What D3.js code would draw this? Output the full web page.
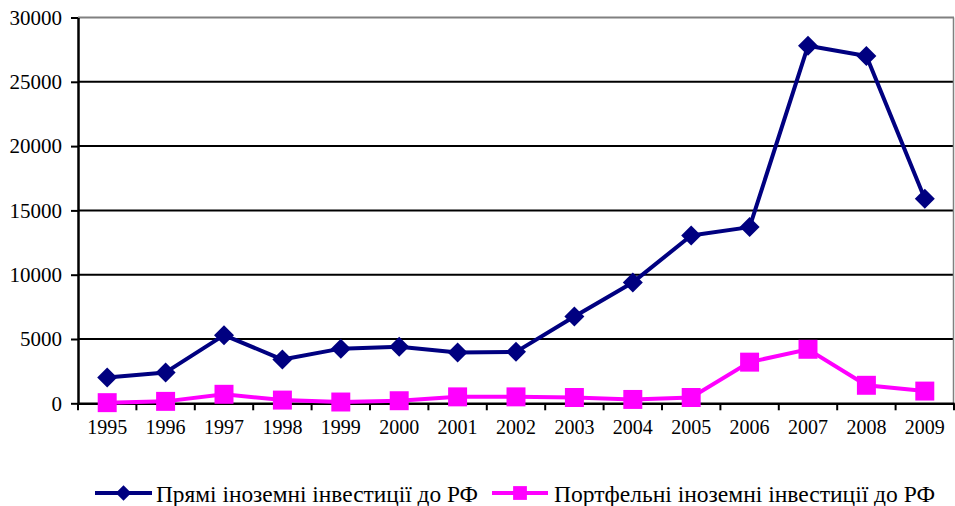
<!DOCTYPE html>
<html>
<head>
<meta charset="utf-8">
<script src="https://cdn.jsdelivr.net/npm/d3@7.9.0/dist/d3.min.js"></script>
<style>
  body { margin: 0; background: #fff; }
  svg text { font-family: "Times New Roman", "Liberation Serif", Tinos, "DejaVu Serif", serif !important; }
</style>
</head>
<body>
<svg id="chart"></svg>
<script>
const years = ['1995', '1996', '1997', '1998', '1999', '2000', '2001', '2002',
  '2003', '2004', '2005', '2006', '2007', '2008', '2009'];
const direct = [2000, 2400, 5300, 3400, 4250, 4400, 3950, 4000,
  6750, 9400, 13050, 13700, 27800, 27000, 15900];
const portfolio = [50, 150, 700, 250, 100, 200, 500, 500,
  450, 300, 450, 3200, 4200, 1400, 950];
const yTicks = [0, 5000, 10000, 15000, 20000, 25000, 30000];
const seriesNames = ['Прямі іноземні інвестиції до РФ', 'Портфельні іноземні інвестиції до РФ'];

const width = 955;
const height = 506;
const margin = { top: 17.5, right: 1, bottom: 102.7, left: 78 };

const svg = d3.select('#chart')
  .attr('width', width)
  .attr('height', height)
  .style('display', 'block');

const x = d3.scaleBand()
  .domain(years)
  .range([margin.left, width - margin.right])
  .paddingInner(0)
  .paddingOuter(0);

const y = d3.scaleLinear()
  .domain([0, 30000])
  .range([height - margin.bottom, margin.top]);

const cx = (d, i) => x(years[i]) + x.bandwidth() / 2;

// gridlines
svg.append('g')
  .selectAll('line')
  .data(yTicks.filter((d) => d > 0))
  .join('line')
  .attr('x1', margin.left)
  .attr('x2', width - margin.right)
  .attr('y1', (d) => y(d))
  .attr('y2', (d) => y(d))
  .attr('stroke', (d) => (d === 30000 ? '#808080' : '#000'))
  .attr('stroke-width', 2);

// right border
svg.append('line')
  .attr('x1', width - margin.right - 0.5)
  .attr('x2', width - margin.right - 0.5)
  .attr('y1', y(30000))
  .attr('y2', y(0))
  .attr('stroke', '#808080')
  .attr('stroke-width', 1.5);

// y axis
const yAxis = svg.append('g')
  .attr('transform', `translate(${margin.left}, 0)`)
  .call(d3.axisLeft(y).tickValues(yTicks).tickSize(7).tickSizeOuter(0).tickPadding(9)
    .tickFormat((d) => String(d)));
yAxis.attr('font-family', null);
yAxis.select('.domain').attr('stroke', '#000').attr('stroke-width', 2.5);
yAxis.selectAll('.tick line').attr('stroke', '#000').attr('stroke-width', 2);
yAxis.selectAll('.tick text')
  .attr('fill', '#000')
  .style('font-size', '21px');

// x axis
const xAxis = svg.append('g')
  .attr('transform', `translate(0, ${y(0)})`)
  .call(d3.axisBottom(x).tickSize(0).tickSizeOuter(0).tickPadding(12));
xAxis.attr('font-family', null);
xAxis.select('.domain').attr('stroke', '#000').attr('stroke-width', 2.5);
xAxis.selectAll('.tick text')
  .attr('fill', '#000')
  .attr('dy', '0.95em')
  .style('font-size', '20px');

// x tick marks at category boundaries
const bounds = years.map((d) => x(d)).concat([x.range()[1]]);
xAxis.selectAll('line.bound')
  .data(bounds)
  .join('line')
  .attr('class', 'bound')
  .attr('x1', (d) => d)
  .attr('x2', (d) => d)
  .attr('y1', 0)
  .attr('y2', 7)
  .attr('stroke', '#000')
  .attr('stroke-width', 2);

const line = d3.line()
  .x(cx)
  .y((d) => y(d));

const diamond = d3.symbol().type(d3.symbolSquare).size(200);
const square = d3.symbol().type(d3.symbolSquare).size(360);

// portfolio series
svg.append('path')
  .datum(portfolio)
  .attr('fill', 'none')
  .attr('stroke', '#ff00ff')
  .attr('stroke-width', 4)
  .attr('d', line);

svg.append('g')
  .selectAll('path')
  .data(portfolio)
  .join('path')
  .attr('transform', (d, i) => `translate(${cx(d, i)}, ${y(d)})`)
  .attr('d', square)
  .attr('fill', '#ff00ff');

// direct series
svg.append('path')
  .datum(direct)
  .attr('fill', 'none')
  .attr('stroke', '#000080')
  .attr('stroke-width', 4)
  .attr('stroke-linejoin', 'round')
  .attr('d', line);

svg.append('g')
  .selectAll('path')
  .data(direct)
  .join('path')
  .attr('transform', (d, i) => `translate(${cx(d, i)}, ${y(d)}) rotate(45)`)
  .attr('d', diamond)
  .attr('fill', '#000080');

// legend
const legend = svg.append('g');
const legendItems = [
  { name: seriesNames[0], color: '#000080', x0: 95, x1: 152, tx: 156, tl: 322, sym: 'diamond' },
  { name: seriesNames[1], color: '#ff00ff', x0: 492, x1: 548, tx: 554, tl: 381, sym: 'square' },
];
const ly = 493;
legendItems.forEach((it) => {
  legend.append('line')
    .attr('x1', it.x0)
    .attr('x2', it.x1)
    .attr('y1', ly)
    .attr('y2', ly)
    .attr('stroke', it.color)
    .attr('stroke-width', 4);
  legend.append('path')
    .attr('transform', `translate(${(it.x0 + it.x1) / 2}, ${ly})` + (it.sym === 'diamond' ? ' rotate(45)' : ''))
    .attr('d', it.sym === 'diamond' ? d3.symbol().type(d3.symbolSquare).size(120) : d3.symbol().type(d3.symbolSquare).size(190))
    .attr('fill', it.color);
  legend.append('text')
    .attr('x', it.tx)
    .attr('y', 501.5)
    .attr('textLength', it.tl)
    .attr('lengthAdjust', 'spacingAndGlyphs')
    .style('font-size', '24px')
    .attr('fill', '#000')
    .text(it.name);
});
</script>
</body>
</html>
